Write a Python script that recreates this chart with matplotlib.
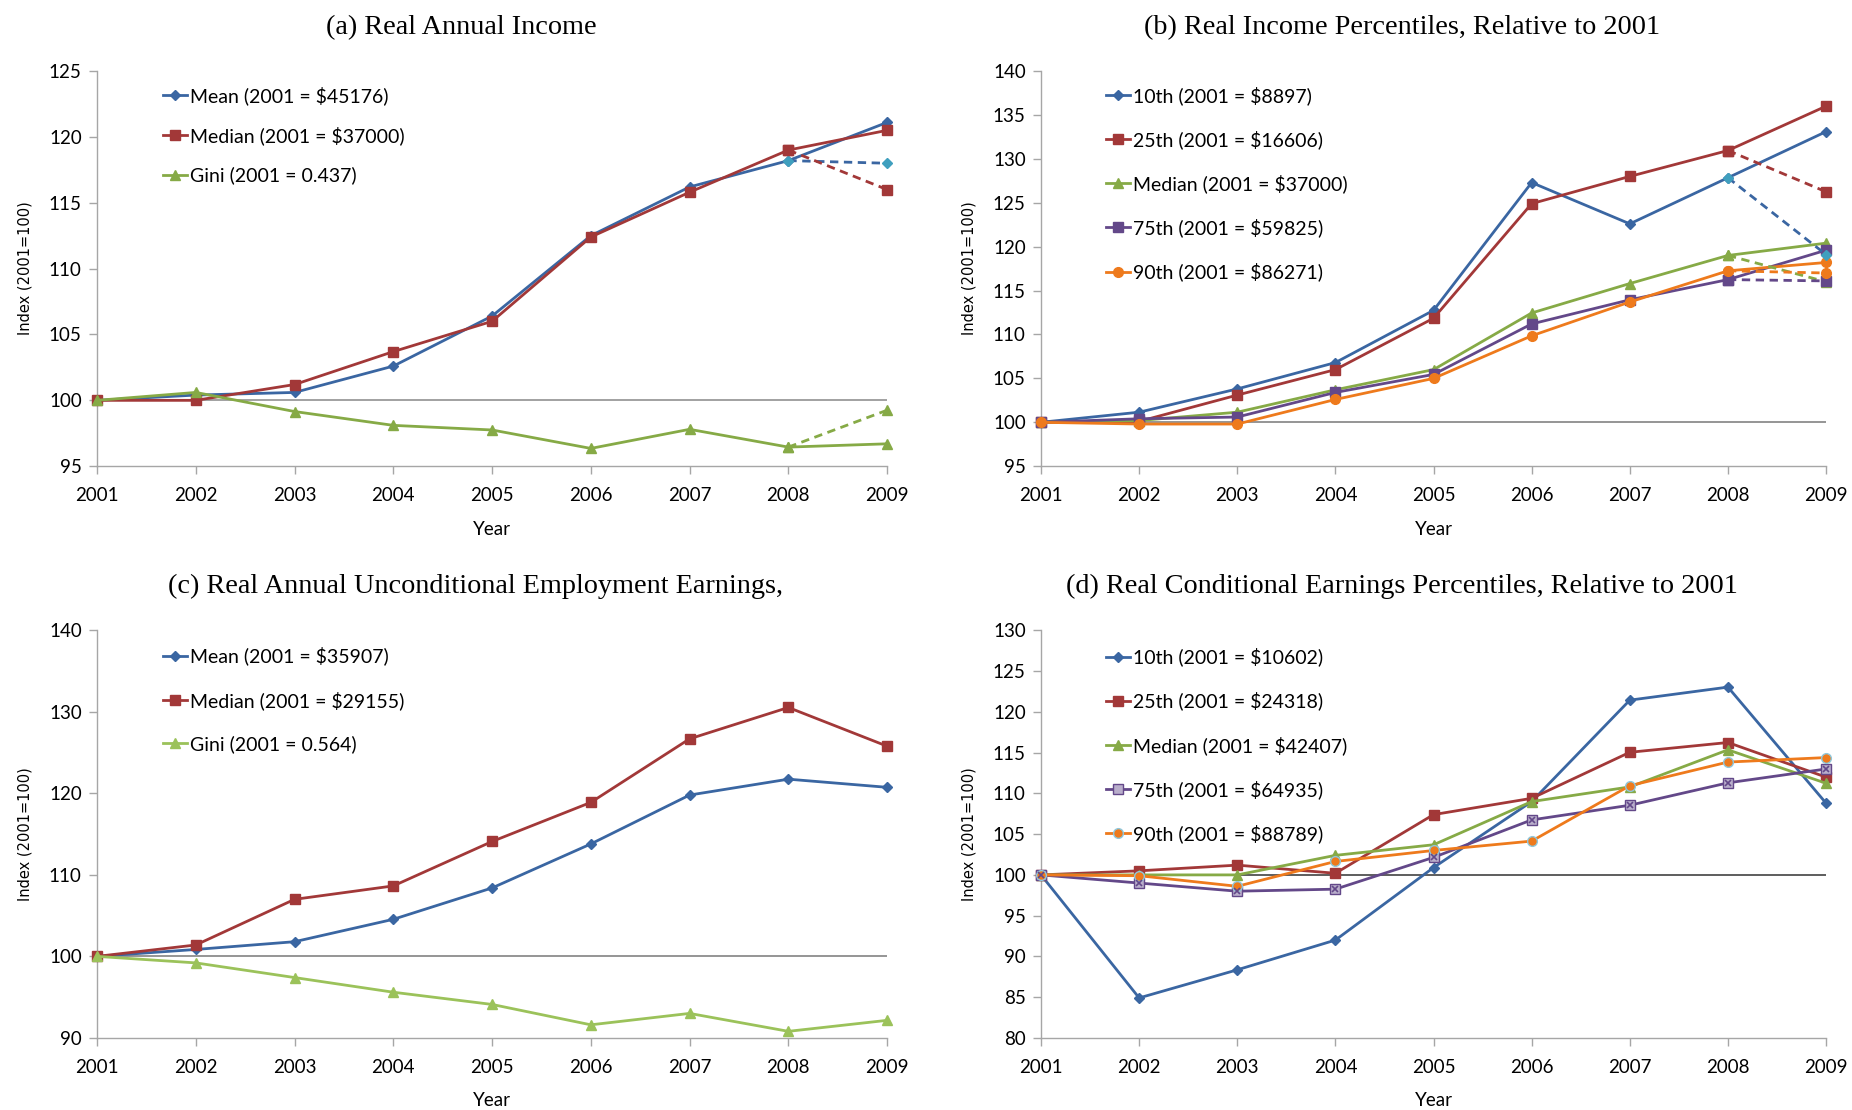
import matplotlib
matplotlib.use("Agg")
import matplotlib.pyplot as plt

years = list(range(2001, 2010))
tail_years = [2008, 2009]

# (a) real annual income, index 2001 = 100
a_mean = [100, 100.4, 100.6, 102.6, 106.4, 112.5, 116.2, 118.2, 121.1]
a_median = [100, 100.0, 101.2, 103.7, 106.0, 112.4, 115.8, 119.0, 120.5]
a_gini = [100, 100.6, 99.15, 98.1, 97.75, 96.35, 97.8, 96.45, 96.7]
a_mean_alt = [118.2, 118.0]
a_median_alt = [119.0, 116.0]
a_gini_alt = [96.45, 99.25]
a_labels = ["Mean (2001 = $45176)", "Median (2001 = $37000)", "Gini (2001 = 0.437)"]

# (b) income percentiles
b_p10 = [100, 101.15, 103.8, 106.8, 112.75, 127.3, 122.6, 127.85, 133.1]
b_p25 = [100, 100.1, 103.1, 106.0, 111.85, 124.9, 128.0, 130.95, 136.0]
b_p50 = [100, 100.2, 101.15, 103.7, 106.0, 112.45, 115.8, 119.0, 120.4]
b_p75 = [100, 100.4, 100.6, 103.4, 105.45, 111.2, 113.95, 116.25, 119.6]
b_p90 = [100, 99.8, 99.8, 102.6, 105.0, 109.85, 113.7, 117.25, 118.2]
b_p10_alt = [127.85, 119.1]
b_p25_alt = [130.95, 126.25]
b_p50_alt = [119.0, 116.0]
b_p75_alt = [116.25, 116.1]
b_p90_alt = [117.25, 117.0]
b_labels = ["10th (2001 = $8897)", "25th (2001 = $16606)", "Median (2001 = $37000)",
            "75th (2001 = $59825)", "90th (2001 = $86271)"]

# (c) unconditional employment earnings
c_mean = [100, 100.85, 101.8, 104.55, 108.4, 113.8, 119.8, 121.75, 120.75]
c_median = [100, 101.4, 107.0, 108.65, 114.1, 118.9, 126.7, 130.55, 125.8]
c_gini = [100, 99.2, 97.4, 95.6, 94.1, 91.6, 93.0, 90.8, 92.15]
c_labels = ["Mean (2001 = $35907)", "Median (2001 = $29155)", "Gini (2001 = 0.564)"]

# (d) conditional earnings percentiles
d_p10 = [100, 84.9, 88.35, 92.0, 100.9, 109.0, 121.45, 123.05, 108.8]
d_p25 = [100, 100.5, 101.2, 100.2, 107.4, 109.4, 115.05, 116.25, 112.0]
d_p50 = [100, 100.0, 100.0, 102.4, 103.7, 109.0, 110.8, 115.35, 111.25]
d_p75 = [100, 99.0, 98.0, 98.25, 102.15, 106.75, 108.55, 111.3, 113.0]
d_p90 = [100, 99.9, 98.6, 101.65, 103.0, 104.15, 110.95, 113.85, 114.4]
d_labels = ["10th (2001 = $10602)", "25th (2001 = $24318)", "Median (2001 = $42407)",
            "75th (2001 = $64935)", "90th (2001 = $88789)"]

BLUE = "#3A66A2"
TEAL = "#3F9FBE"
RED = "#A23838"
GREEN = "#86AA46"
LGREEN = "#9BC25A"
PURPLE = "#634889"
ORANGE = "#EE7A1C"

TICK_FONT = "Lato"
TITLE_FONT = "Liberation Serif"

fig = plt.figure(figsize=(18.52, 11.10), dpi=100)

rects = {
    "a": [0.0524, 0.580, 0.4266, 0.356],
    "b": [0.5621, 0.580, 0.4239, 0.356],
    "c": [0.0524, 0.065, 0.4266, 0.367],
    "d": [0.5621, 0.065, 0.4239, 0.367],
}


def setup_axes(ax, ylim, ystep, hline_color="#9A9A9A"):
    ax.set_xlim(2001, 2009)
    ax.set_ylim(*ylim)
    ax.set_xticks(years)
    ax.set_yticks(range(ylim[0], ylim[1] + 1, ystep))
    for s in ("top", "right"):
        ax.spines[s].set_visible(False)
    for s in ("left", "bottom"):
        ax.spines[s].set_color("#A6A6A6")
        ax.spines[s].set_linewidth(1.0)
    ax.tick_params(axis="both", colors="#A6A6A6", labelcolor="black",
                   labelsize=13.5, length=6, width=1.0, direction="out")
    ax.tick_params(axis="x", pad=9)
    ax.tick_params(axis="y", pad=5)
    for lab in ax.get_xticklabels() + ax.get_yticklabels():
        lab.set_fontfamily(TICK_FONT)
    ax.axhline(100, color=hline_color, lw=1.3, zorder=1)
    ax.set_xlabel("Year", fontsize=13.5, fontfamily=TICK_FONT, labelpad=12)
    ax.set_ylabel("Index (2001=100)", fontsize=10.5, fontfamily="DejaVu Sans", labelpad=12)


def line(ax, y, color, marker, label=None, ms=7, **kw):
    return ax.plot(years, y, color=color, lw=2.0, marker=marker, ms=ms,
                   mec=kw.pop("mec", color), mfc=kw.pop("mfc", color),
                   label=label, clip_on=False, zorder=3, **kw)


def dashed(ax, y, color, marker, mcolor=None, ms=7):
    mcolor = mcolor or color
    ax.plot(tail_years, y, color=color, lw=2.0, ls=(0, (3, 2)), marker=marker, ms=ms,
            mec=mcolor, mfc=mcolor, clip_on=False, zorder=3)


def legend(ax, anchor, spacing):
    ax.legend(loc="upper left", bbox_to_anchor=anchor, frameon=False,
              prop={"family": TICK_FONT, "size": 14}, handlelength=1.25,
              handletextpad=0.15, labelspacing=spacing, borderpad=0, borderaxespad=0)


# (a)
ax = fig.add_axes(rects["a"])
setup_axes(ax, (95, 125), 5)
line(ax, a_mean, BLUE, "D", a_labels[0], ms=5.5)
line(ax, a_median, RED, "s", a_labels[1])
line(ax, a_gini, GREEN, "^", a_labels[2])
dashed(ax, a_mean_alt, BLUE, "D", TEAL, ms=5.5)
dashed(ax, a_median_alt, RED, "s")
dashed(ax, a_gini_alt, GREEN, "^")
legend(ax, (0.083, 0.962), 1.1)
fig.text(0.249, 0.975, "(a) Real Annual Income", ha="center", va="center",
         fontsize=20.3, fontfamily=TITLE_FONT)

# (b)
ax = fig.add_axes(rects["b"])
setup_axes(ax, (95, 140), 5, hline_color="#8C8C8C")
line(ax, b_p10, BLUE, "D", b_labels[0], ms=5.5)
line(ax, b_p25, RED, "s", b_labels[1])
line(ax, b_p50, GREEN, "^", b_labels[2])
line(ax, b_p75, PURPLE, "s", b_labels[3])
line(ax, b_p90, ORANGE, "o", b_labels[4])
dashed(ax, b_p10_alt, BLUE, "D", TEAL, ms=5.5)
dashed(ax, b_p25_alt, RED, "s")
dashed(ax, b_p50_alt, GREEN, "^")
dashed(ax, b_p75_alt, PURPLE, "s")
dashed(ax, b_p90_alt, ORANGE, "o")
legend(ax, (0.083, 0.962), 1.3)
fig.text(0.757, 0.975, "(b) Real Income Percentiles, Relative to 2001", ha="center",
         va="center", fontsize=20.3, fontfamily=TITLE_FONT)

# (c)
ax = fig.add_axes(rects["c"])
setup_axes(ax, (90, 140), 10, hline_color="#8C8C8C")
line(ax, c_mean, BLUE, "D", c_labels[0], ms=5.5)
line(ax, c_median, RED, "s", c_labels[1])
line(ax, c_gini, LGREEN, "^", c_labels[2])
legend(ax, (0.083, 0.96), 1.3)
fig.text(0.257, 0.472, "(c) Real Annual Unconditional Employment Earnings,", ha="center",
         va="center", fontsize=20.3, fontfamily=TITLE_FONT)

# (d)
ax = fig.add_axes(rects["d"])
setup_axes(ax, (80, 130), 5, hline_color="#505050")
line(ax, d_p10, BLUE, "D", d_labels[0], ms=5.5)
line(ax, d_p25, RED, "s", d_labels[1])
line(ax, d_p50, GREEN, "^", d_labels[2])
line(ax, d_p75, PURPLE, "s", d_labels[3], mfc="#B9AECB", mec=PURPLE)
ax.plot(years, d_p75, ls="none", marker="x", ms=5, mew=1.2, color=PURPLE,
        clip_on=False, zorder=4)
line(ax, d_p90, ORANGE, "o", d_labels[4], mec="#8FC7DB")
legend(ax, (0.083, 0.958), 1.3)
fig.text(0.757, 0.472, "(d) Real Conditional Earnings Percentiles, Relative to 2001",
         ha="center", va="center", fontsize=20.3, fontfamily=TITLE_FONT)

fig.savefig("out.png", dpi=100)
